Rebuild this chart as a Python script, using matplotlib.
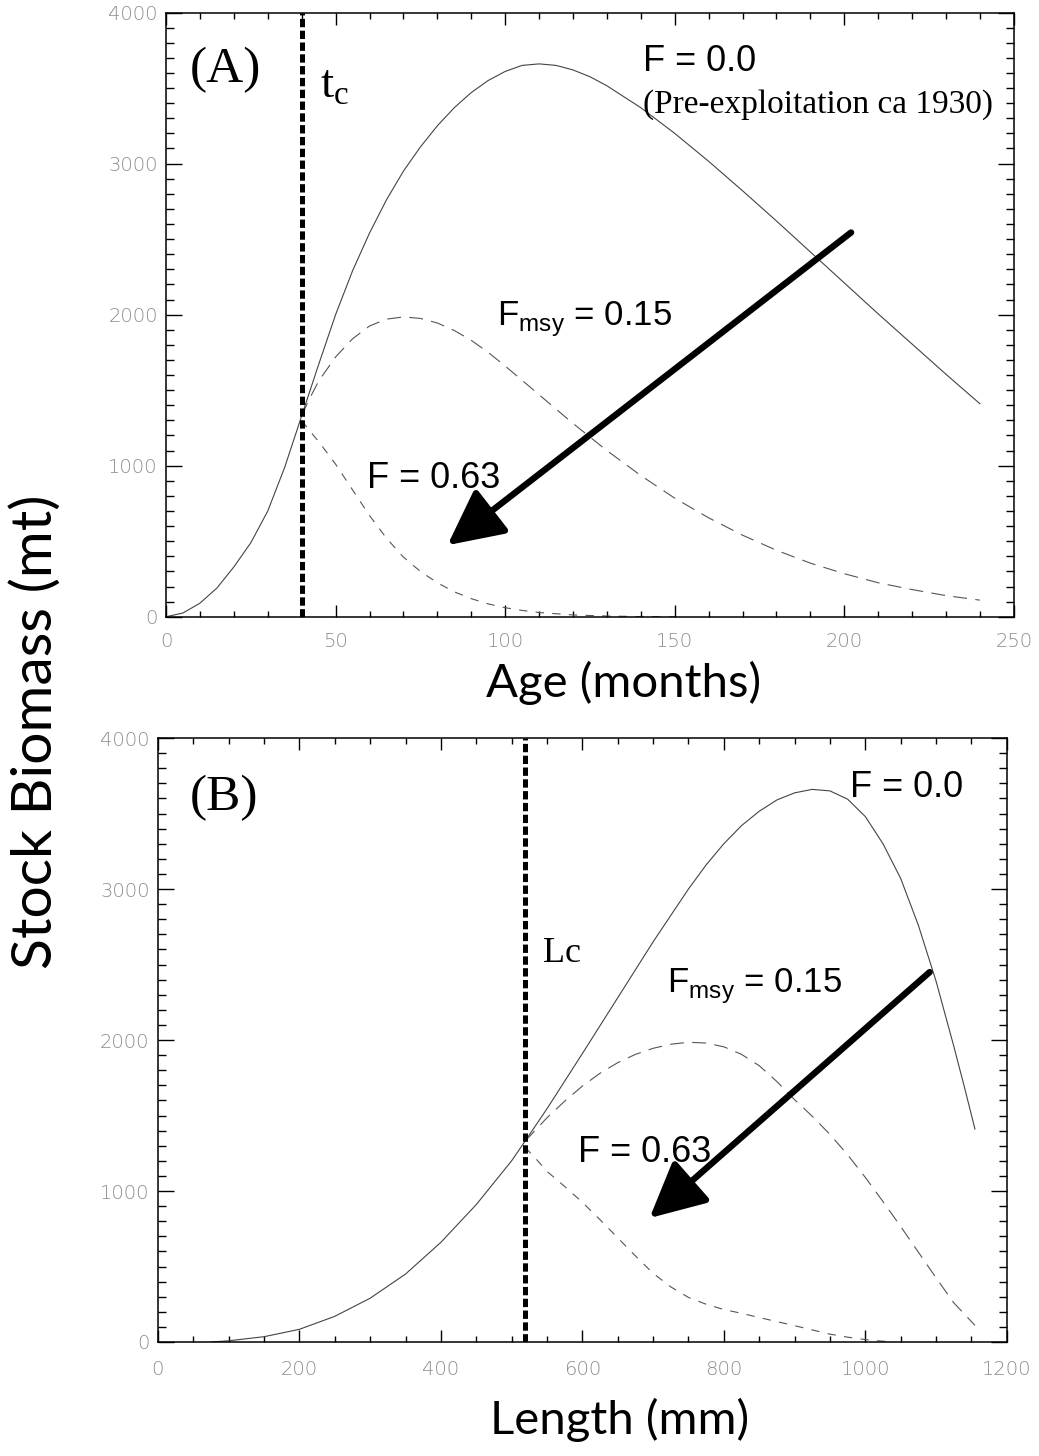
import matplotlib
matplotlib.use('Agg')
from matplotlib import pyplot as plt
from matplotlib.ticker import MultipleLocator

# (A) biomass by age
age_f0 = [0, 5, 10, 15, 20, 25, 30, 35, 40, 45, 50, 55, 60, 65, 70, 75, 80, 85, 90, 95,
          100, 105, 110, 115, 120, 125, 130, 140, 150, 160, 170, 180, 190, 200, 210, 220, 230, 240]
bio_f0 = [0, 25, 90, 190, 330, 490, 700, 990, 1330, 1670, 2000, 2290, 2540, 2760, 2950, 3110, 3250, 3370, 3470, 3550,
          3610, 3650, 3660, 3650, 3620, 3575, 3515, 3370, 3200, 3015, 2820, 2620, 2415, 2210, 2005, 1805, 1605, 1410]

age_fmsy = [40, 42, 45, 50, 55, 60, 65, 70, 75, 80, 85, 90, 95, 100, 105, 110, 115, 120, 130, 140,
            150, 160, 170, 180, 190, 200, 210, 220, 230, 240]
bio_fmsy = [1330, 1430, 1560, 1720, 1840, 1925, 1970, 1985, 1975, 1945, 1895, 1830, 1750, 1660, 1565, 1470, 1375, 1280, 1100, 935,
            785, 655, 540, 440, 355, 285, 225, 180, 140, 110]

age_f63 = [40, 42, 45, 50, 55, 60, 65, 70, 75, 80, 85, 90, 95, 100, 105, 110, 120, 130, 140, 150]
bio_f63 = [1300, 1240, 1160, 1010, 840, 670, 520, 395, 300, 225, 165, 120, 85, 60, 42, 28, 12, 5, 1, 0]

# (B) biomass by length
len_f0 = [75, 100, 150, 200, 250, 300, 350, 400, 450, 500, 519, 550, 600, 650, 700, 750, 775, 800, 825, 850,
          875, 900, 925, 950, 975, 1000, 1025, 1050, 1075, 1100, 1125, 1140, 1155]
bio_f0_len = [0, 8, 35, 84, 170, 290, 450, 660, 910, 1200, 1330, 1545, 1910, 2280, 2650, 3000, 3160, 3300, 3420, 3515,
              3590, 3637, 3660, 3650, 3595, 3480, 3300, 3070, 2760, 2390, 1960, 1690, 1410]

len_fmsy = [519, 535, 550, 575, 600, 625, 650, 675, 700, 725, 750, 775, 800, 825, 850, 875,
            900, 925, 950, 975, 1000, 1025, 1050, 1075, 1100, 1125, 1155]
bio_fmsy_len = [1330, 1410, 1485, 1595, 1695, 1780, 1850, 1905, 1945, 1972, 1985, 1980, 1955, 1905, 1830, 1725,
                1605, 1495, 1375, 1240, 1090, 930, 765, 595, 425, 260, 110]

len_f63 = [519, 535, 550, 575, 600, 625, 650, 675, 700, 725, 750, 775, 800, 825, 850, 875,
           900, 925, 950, 975, 1000, 1020, 1040]
bio_f63_len = [1290, 1210, 1130, 1030, 925, 810, 690, 570, 455, 365, 295, 250, 215, 190, 162, 135,
               108, 80, 52, 32, 16, 7, 0]

tc = 40
lc = 519

plt.rcParams['lines.scale_dashes'] = False
plt.rcParams['mathtext.fontset'] = 'custom'
plt.rcParams['mathtext.rm'] = 'Liberation Serif'
plt.rcParams['mathtext.sf'] = 'Liberation Sans'

fig = plt.figure(figsize=(10.39, 14.56), dpi=100)
ax1 = fig.add_axes([0.1598, 0.5764, 0.816, 0.415])
ax2 = fig.add_axes([0.152, 0.0783, 0.817, 0.4148])

sans = 'Liberation Sans'
serif = 'Liberation Serif'


def style_axes(ax, xmax, xmaj, xmin):
    ax.set_xlim(0, xmax)
    ax.set_ylim(0, 4000)
    ax.xaxis.set_major_locator(MultipleLocator(xmaj))
    ax.xaxis.set_minor_locator(MultipleLocator(xmin))
    ax.yaxis.set_major_locator(MultipleLocator(1000))
    ax.yaxis.set_minor_locator(MultipleLocator(100))
    ax.tick_params(which='both', direction='in', top=True, right=True, width=1.0, colors='black',
                   labelcolor='#8c8c8c')
    ax.tick_params(axis='y', which='major', length=11.5, pad=6)
    ax.tick_params(axis='y', which='minor', length=5.8)
    ax.tick_params(axis='x', which='major', length=8.6, pad=11)
    ax.tick_params(axis='x', which='minor', length=4.3)
    for lab in ax.get_xticklabels() + ax.get_yticklabels():
        lab.set_fontfamily('DejaVu Sans')
        lab.set_fontweight('light')
        lab.set_fontsize(14)
    for sp in ax.spines.values():
        sp.set_linewidth(1.1)


def draw_panel(ax, x0, y0, xm, ym, x63, y63, cut):
    ax.plot(x0, y0, color='#444444', lw=0.8)
    ax.plot(xm, ym, color='#555555', lw=0.8, dashes=(10, 6))
    ax.plot(x63, y63, color='#555555', lw=0.8, dashes=(6, 6))
    ax.axvline(cut, color='black', lw=3.6, dashes=(6, 2.5))


arrow = dict(arrowstyle='-|>,head_length=1.7,head_width=0.85', lw=4.6, color='black',
             mutation_scale=20, shrinkA=0, shrinkB=0)

# panel A
draw_panel(ax1, age_f0, bio_f0, age_fmsy, bio_fmsy, age_f63, bio_f63, tc)
style_axes(ax1, 250, 50, 10)
ax1.annotate('', xy=(83, 474), xytext=(202, 2544), arrowprops=arrow)
ax1.text(7.1, 3536, '(A)', family=serif, size=37, ha='left', va='baseline')
ax1.text(45.4, 3437, r'$\mathrm{t}_{\mathrm{c}}$', size=34, ha='left', va='baseline')
ax1.text(140.7, 3616, 'F = 0.0', family=sans, size=26, ha='left', va='baseline')
ax1.text(140.7, 3337, '(Pre-exploitation ca 1930)', family=serif, size=24, ha='left', va='baseline')
ax1.text(97.6, 1923, r'F$_{\mathsf{msy}}$ = 0.15', family=sans, size=25, ha='left', va='baseline')
ax1.text(59.3, 851, 'F = 0.63', family=sans, size=26, ha='left', va='baseline')

# panel B
draw_panel(ax2, len_f0, bio_f0_len, len_fmsy, bio_fmsy_len, len_f63, bio_f63_len, lc)
style_axes(ax2, 1200, 200, 50)
ax2.tick_params(axis='x', which='major', pad=13)
ax2.annotate('', xy=(695, 821), xytext=(1091, 2450), arrowprops=arrow)
ax2.text(45, 3523, '(B)', family=serif, size=37, ha='left', va='baseline')
ax2.text(978, 3609, 'F = 0.0', family=sans, size=26, ha='left', va='baseline')
ax2.text(544, 2517, 'Lc', family=serif, size=26, ha='left', va='baseline')
ax2.text(719, 2311, r'F$_{\mathsf{msy}}$ = 0.15', family=sans, size=25, ha='left', va='baseline')
ax2.text(594, 1192, 'F = 0.63', family=sans, size=26, ha='left', va='baseline')

fig.text(624 / 1039, 1 - 683 / 1456, 'Age (months)', ha='center', va='center', family='Lato', size=34)
fig.text(620 / 1039, 1 - 1420 / 1456, 'Length (mm)', ha='center', va='center', family='Lato', size=34)
fig.text(36 / 1039, 1 - 732 / 1456, 'Stock Biomass (mt)', ha='center', va='center', rotation=90,
         family='Lato', size=41)

fig.savefig('out.png', dpi=100)
